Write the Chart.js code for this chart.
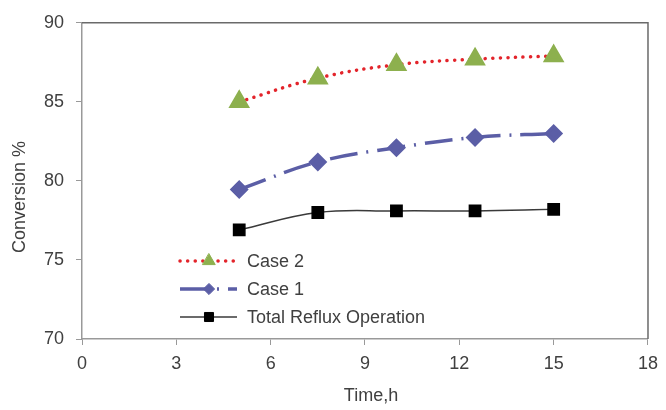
<!DOCTYPE html>
<html>
<head>
<meta charset="utf-8">
<script src="https://cdn.jsdelivr.net/npm/chart.js@4.4.1/dist/chart.umd.min.js"></script>
<style>
  html, body { margin: 0; padding: 0; background: #fff; }
  #wrap { width: 666px; height: 410px; }
</style>
</head>
<body>
<div id="wrap"><canvas id="chart" width="666" height="410"></canvas></div>
<script>
  // values
  const timeH = [5, 7.5, 10, 12.5, 15];
  const case2 = [85.0, 86.5, 87.35, 87.7, 87.9];
  const case1 = [79.45, 81.2, 82.1, 82.75, 83.0];
  const totalReflux = [76.9, 78.0, 78.1, 78.1, 78.2];

  const xTicks = [0, 3, 6, 9, 12, 15, 18];
  const yTicks = [70, 75, 80, 85, 90];
  const xTitle = 'Time,h';
  const yTitle = 'Conversion %';

  const FONT = '"Liberation Sans", Arial, sans-serif';
  const INK = '#404040';

  const pts = ys => ys.map((y, i) => ({ x: timeH[i], y }));

  // frame on top/right, axis titles and the in-plot legend
  const framePlugin = {
    id: 'frame',
    beforeDatasetsDraw(chart) {
      const { ctx, chartArea: a } = chart;
      ctx.save();
      ctx.strokeStyle = '#6a6a6a';
      ctx.lineWidth = 1.5;
      ctx.beginPath();
      ctx.moveTo(a.left, a.top);
      ctx.lineTo(a.right, a.top);
      ctx.lineTo(a.right, a.bottom);
      ctx.stroke();
      ctx.restore();
    },
    afterDraw(chart) {
      const { ctx } = chart;
      ctx.save();
      ctx.fillStyle = INK;
      ctx.font = '18px ' + FONT;
      ctx.textAlign = 'center';
      ctx.textBaseline = 'middle';
      ctx.fillText(xTitle, 371, 396);
      ctx.translate(20, 197);
      ctx.rotate(-Math.PI / 2);
      ctx.fillText(yTitle, 0, 0);
      ctx.restore();

      const x0 = 180, x1 = 237, mx = 209, tx = 247;
      const rows = [261, 289, 317];
      chart.data.datasets.forEach((ds, i) => {
        const y = rows[i];
        ctx.save();
        ctx.strokeStyle = ds.borderColor;
        ctx.lineWidth = ds.borderWidth;
        ctx.lineCap = ds.borderCapStyle || 'butt';
        ctx.setLineDash(ds.borderDash || []);
        ctx.beginPath();
        ctx.moveTo(x0, y);
        ctx.lineTo(x1, y);
        ctx.stroke();
        ctx.setLineDash([]);
        ctx.fillStyle = ds.pointBackgroundColor;
        ctx.strokeStyle = ds.pointBorderColor;
        ctx.lineWidth = 1;
        Chart.helpers.drawPoint(ctx, { pointStyle: ds.pointStyle, radius: ds.pointRadius * 0.8, borderWidth: 1, rotation: 0 }, mx, y);
        ctx.fillStyle = INK;
        ctx.font = '18px ' + FONT;
        ctx.textBaseline = 'middle';
        ctx.textAlign = 'left';
        ctx.fillText(ds.label, tx, y + 1);
        ctx.restore();
      });
    }
  };

  new Chart(document.getElementById('chart'), {
    type: 'line',
    data: {
      datasets: [
        {
          label: 'Case 2',
          data: pts(case2),
          borderColor: '#e3242b',
          borderWidth: 3.5,
          borderDash: [0.1, 7.5],
          borderCapStyle: 'round',
          tension: 0.4,
          pointStyle: 'triangle',
          pointRadius: 9,
          pointBackgroundColor: '#8db04e',
          pointBorderColor: '#8db04e'
        },
        {
          label: 'Case 1',
          data: pts(case1),
          borderColor: '#5b5ea6',
          borderWidth: 3.5,
          borderDash: [28, 9, 2, 9],
          tension: 0.4,
          pointStyle: 'rectRot',
          pointRadius: 7,
          pointBackgroundColor: '#5b5ea6',
          pointBorderColor: '#5b5ea6'
        },
        {
          label: 'Total Reflux Operation',
          data: pts(totalReflux),
          borderColor: '#3a3a3a',
          borderWidth: 1.5,
          borderDash: [],
          tension: 0.4,
          pointStyle: 'rect',
          pointRadius: 8,
          pointBackgroundColor: '#000',
          pointBorderColor: '#000'
        }
      ]
    },
    options: {
      responsive: false,
      animation: false,
      layout: { padding: { top: 22, right: 15, left: 0, bottom: 0 } },
      plugins: { legend: { display: false }, tooltip: { enabled: false } },
      scales: {
        x: {
          type: 'linear',
          min: 0, max: 18,
          afterBuildTicks: s => { s.ticks = xTicks.map(v => ({ value: v })); },
          afterFit: s => { s.height = 71; },
          ticks: { color: INK, font: { family: FONT, size: 18 }, padding: 8 },
          grid: { drawOnChartArea: false, drawTicks: true, tickLength: 6, color: '#999' },
          border: { color: '#999', width: 1.5 }
        },
        y: {
          type: 'linear',
          min: 70, max: 90,
          afterBuildTicks: s => { s.ticks = yTicks.map(v => ({ value: v })); },
          afterFit: s => { s.width = 82; },
          ticks: { color: INK, font: { family: FONT, size: 18 }, padding: 12 },
          grid: { drawOnChartArea: false, drawTicks: true, tickLength: 6, color: '#999' },
          border: { color: '#999', width: 1.5 }
        }
      }
    },
    plugins: [framePlugin]
  });
</script>
</body>
</html>
